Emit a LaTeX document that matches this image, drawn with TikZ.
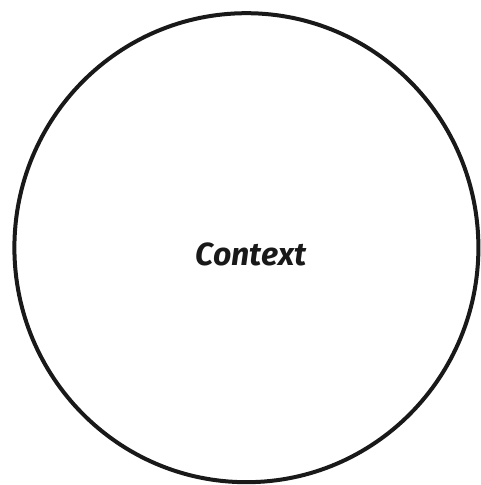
\documentclass[tikz,border=0pt]{standalone}
\usepackage{fontspec}
\setmainfont{Fira Sans}
\usepackage{tikz}
\usetikzlibrary{shapes.geometric}
\tikzset{
  ctxcircle/.style = {ellipse, draw=black!90, line width=4pt, minimum width=464pt,
                      minimum height=469pt, inner sep=0pt},
  lbl/.style       = {font=\fontsize{32}{36}\selectfont\bfseries\itshape, text=black!90},
}
\begin{document}
\begin{tikzpicture}[x=1pt, y=1pt]
  \useasboundingbox (0,0) rectangle (481,485);
  \node[ctxcircle] (ctx) at (246.4,237.3) {};
  \node[lbl] (lbl) at (251,230.5) {Context};
\end{tikzpicture}
\end{document}
